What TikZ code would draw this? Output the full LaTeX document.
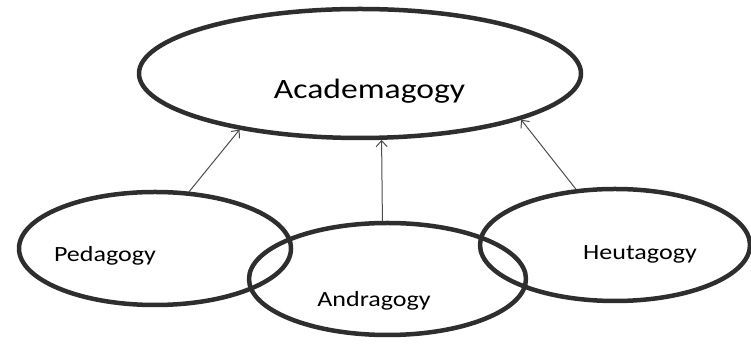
\documentclass[tikz,border=0pt]{standalone}
\usepackage{fontspec}
\setmainfont{Carlito}[FakeStretch=1.2]
\usetikzlibrary{arrows.meta, shapes.geometric}

\begin{document}
\begin{tikzpicture}[line cap=round,line join=round,>={Straight Barb[length=6pt,width=11pt]},x=1pt,y=1pt,
  ring/.style={ellipse,draw=black!82,line width=4.5pt,inner sep=0pt},
  word/.style={anchor=base,text=black,font=\fontsize{21.7}{26}\selectfont},
  link/.style={->,draw=black!70,line width=1pt}]
\useasboundingbox (0,0) rectangle (751,344);

\node[ring,minimum width=442,minimum height=129] (academ) at (360,270.5) {};
\node[ring,minimum width=272,minimum height=113] (ped) at (155,95.5) {};
\node[ring,minimum width=277,minimum height=112] (andra) at (387.5,65) {};
\node[ring,minimum width=270,minimum height=112] (heut) at (615,99) {};

\node[word,font=\fontsize{28}{34}\selectfont] (academtext) at (369.5,245) {Academagogy};
\node[word] (pedtext) at (105,82) {Pedagogy};
\node[word] (andratext) at (374,37) {Andragogy};
\node[word] (heuttext) at (640,84) {Heutagogy};

\draw[link] (ped.59) -- (academ.205);
\draw[link] (andra.95) -- (academ.288);
\draw[link] (heut.125) -- (academ.344);

\end{tikzpicture}
\end{document}
